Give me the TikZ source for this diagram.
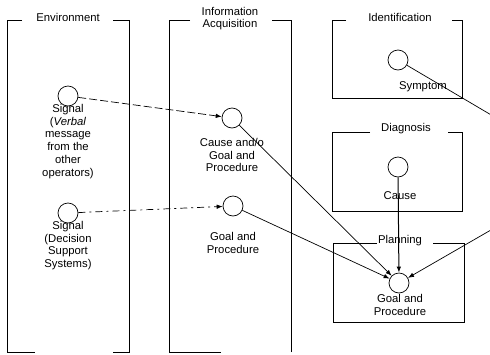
\documentclass[tikz,border=0pt]{standalone}
\usepackage{fontspec}
\setmainfont{Liberation Sans}
\usetikzlibrary{arrows.meta}
\begin{document}
\begin{tikzpicture}[x=1pt,y=-1pt,
  frame/.style={line width=0.9pt},
  state/.style={circle,draw,line width=0.7pt,minimum size=20pt,inner sep=0pt},
  lbl/.style={font=\fontsize{11.3}{12.8}\selectfont,align=center,inner sep=0pt},
  ttl/.style={font=\fontsize{11.3}{12}\selectfont,align=center,inner sep=0pt},
  flow/.style={line width=0.7pt,-{Latex[length=6pt,width=4.5pt]}},
  dashflow/.style={flow,dash pattern=on 8pt off 3pt},
  dotflow/.style={flow,dash pattern=on 7pt off 4pt on 2pt off 4pt}]
\useasboundingbox (0,0) rectangle (490,354);
\fill[white] (0,0) rectangle (490,354);

% Environment column
\draw[frame] (22,20) -- (7,20) -- (7,352) -- (35,352);
\draw[frame] (113,352) -- (129,352) -- (129,20) -- (113,20);
\node[ttl] (tenv) at (68,17) {Environment};

% Information acquisition column
\draw[frame] (190,20) -- (169,20) -- (169,352) -- (221,352);
\draw[frame] (291,352) -- (291,20) -- (272,20);
\node[ttl] (tinf) at (230,19) {Information\\Acquisition};

% Identification box
\draw[frame] (346,20) -- (332,20) -- (332,98) -- (462,98) -- (462,20) -- (452,20);
\node[ttl] (tide) at (400,17) {Identification};

% Diagnosis box
\draw[frame] (370,132) -- (332,132) -- (332,211) -- (462,211) -- (462,132) -- (448,132);
\node[ttl] (tdia) at (406,129) {Diagnosis};

% Planning box
\draw[frame] (377,243) -- (333,243) -- (333,322) -- (464,322) -- (464,243) -- (433,243);
\node[ttl] (tpla) at (400,241) {Planning};

% States
\node[state] (e1) at (68,96) {};
\node[state] (e2) at (68,213) {};
\node[state] (i1) at (232,118) {};
\node[state] (i2) at (233,206) {};
\node[state] (sy) at (398,60) {};
\node[state] (ca) at (398,167) {};
\node[state] (pl) at (399,283) {};

% State labels
\node[lbl,anchor=north] (le1) at (68,104) {Signal\\(\textit{Verbal}\\message\\from the\\other\\operators)};
\node[lbl,anchor=north] (le2) at (68,221) {Signal\\(Decision\\Support\\Systems)};
\node[lbl,anchor=north] (li1) at (232,138) {Cause and/o\\Goal and\\Procedure};
\node[lbl,anchor=north] (li2) at (233,232) {Goal and\\Procedure};
\node[lbl] (lsy) at (423,87) {Symptom};
\node[lbl] (lca) at (400,196) {Cause};
\node[lbl,anchor=north] (lpl) at (400,294) {Goal and\\Procedure};

% Off-frame route of the symptom link
\coordinate (outA) at (515,129);
\coordinate (outB) at (510,219);

% Connections
\draw[dashflow] (e1) -- (i1);
\draw[dotflow] (e2) -- (i2);
\draw[flow] (i1) -- (pl);
\draw[flow] (i2) -- (pl);
\draw[flow,line width=1pt] (ca) -- (pl);
\draw[line width=0.7pt] (sy) -- (outA);
\draw[flow] (outB) -- (pl);
\end{tikzpicture}
\end{document}
